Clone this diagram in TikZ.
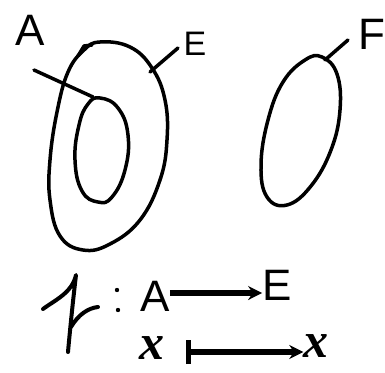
\documentclass[tikz,border=0pt]{standalone}
\usepackage{fontspec}
\setmainfont{Liberation Sans}
\newfontfamily\xfont{Liberation Serif}
\usetikzlibrary{arrows.meta}
\begin{document}
\begin{tikzpicture}[x=1pt,y=-1pt,
  pen/.style={line width=3.5pt,line cap=round,line join=round,black},
  lbl/.style={font=\fontsize{44}{44}\selectfont,inner sep=0pt},
  xlbl/.style={font=\fontsize{50}{50}\selectfont\xfont\bfseries\itshape,inner sep=0pt},
  maparrow/.style={line width=6pt,black,-{Stealth[length=14pt,width=14pt]}}]
\useasboundingbox (0,0) rectangle (385,372);
\fill[white] (0,0) rectangle (385,372);
% outer set E
\draw[pen] plot[smooth cycle,tension=0.7] coordinates
  {(100,42) (130,47) (152,68) (165,100) (167,140) (160,180) (140,220) (110,244) (83,250) (60,236) (50,200) (50,160) (57,112) (68,72) (84,50)};
\draw[pen] (78,56) -- (84,46) -- (92,45);
% inner set A
\draw[pen] plot[smooth cycle,tension=0.75] coordinates
  {(100,98) (118,108) (128,135) (125,170) (112,197) (98,202) (82,191) (75,160) (79,125) (88,104)};
% set F
\draw[pen] plot[smooth cycle,tension=0.7] coordinates
  {(305,60) (322,57) (337,74) (340,110) (331,150) (311,186) (287,205) (267,197) (261,165) (268,120) (283,82)};
% labels
\node[lbl] (lA) at (30,30) {A};
\node[lbl,font=\fontsize{34}{34}\selectfont] (lE) at (195,44) {E};
\node[lbl] (lF) at (372,34) {F};
\coordinate (cA) at (34,70);
\coordinate (tA) at (93,97);
\coordinate (cE) at (150,72);
\coordinate (tE) at (178,48);
\coordinate (cF) at (325,60);
\coordinate (tF) at (348,40);
\draw[pen] (cA) -- (tA);
\draw[pen] (cE) -- (tE);
\draw[pen] (cF) -- (tF);
% map symbol (hand-drawn iota)
\draw[pen,line width=4pt] (43,309) .. controls (55,300) and (72,293) .. (76,275)
  .. controls (73,300) and (70,330) .. (68,352);
\draw[pen,line width=4pt] (71,327) .. controls (78,315) and (88,308) .. (98,307);
\fill (117,290) circle (2.2pt);
\fill (118,310) circle (2.2pt);
\node[lbl] (bA) at (155,296) {A};
\node[lbl] (bE) at (277,285) {E};
\node[xlbl] (x1) at (152,348) {x};
\node[xlbl] (x2) at (316,346) {x};
\coordinate (bar) at (188,352);
\draw[maparrow] (bA.east |- 0,293) -- (bE.west |- 0,293);
\draw[maparrow] (bar) -- (x2.west |- bar);
\draw[line width=5pt] ([yshift=-12pt]bar) -- ([yshift=12pt]bar);
\end{tikzpicture}
\end{document}
